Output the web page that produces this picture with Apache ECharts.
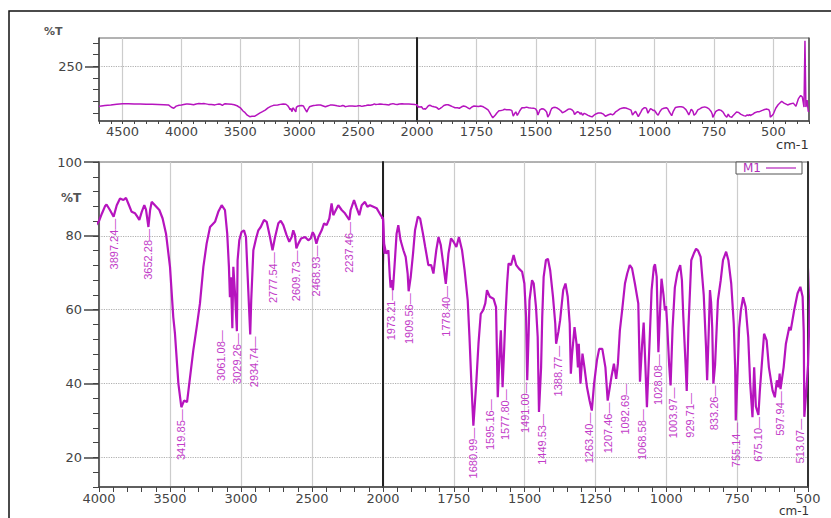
<!DOCTYPE html>
<html><head><meta charset="utf-8">
<script src="https://cdn.jsdelivr.net/npm/echarts@6/dist/echarts.min.js"></script>
<style>html,body{margin:0;padding:0;background:#fff}#c{width:831px;height:518px}</style>
</head><body><div id="c"></div>
<script>
// Wavenumber (cm-1) and %T
const wavenumbers = [
4700,4680,4650,4600,4550,4500,4450,4400,4350,4300,4250,4200,4150,4110,4085,4065,4045,4020,
4000,3980,3958,3947,3923,3897,3875,3852,3828,3810,3793,3770,3746,3730,3716,3699,3681,3669,3652,3640,
3629,3606,3575,3552,3528,3500,3477,3465,3441,3420,3401,3380,3359,3336,3312,3289,3265,3242,3218,3183,
3160,3136,3113,3097,3085,3078,3071,3061,3054,3042,3029,3024,3012,2997,2979,2965,2956,2935,2928,2913,
2894,2878,2861,2838,2819,2796,2778,2760,2737,2720,2702,2679,2660,2643,2632,2620,2610,2596,2577,2549,
2526,2509,2495,2484,2469,2455,2432,2415,2397,2378,2362,2350,2338,2315,2291,2268,2237,2228,2204,2185,
2167,2150,2127,2110,2092,2068,2045,2016,2000,
1996,1989,1981,1976,1973,1969,1965,1958,1952,1946,1938,1928,1920,1913,1909.5,1902,1894,1887,1877,1869,
1859,1851,1840,1830,1822,1812,1804,1796,1786,1778.4,1769,1760,1751,1741,1732,1721,1712,1701,1695,1688,
1681,1671,1663,1655,1647,1639,1633,1623,1610,1601,1595,1588,1584,1581,1578,1572,1568,1562,1557,1548,
1539,1530,1521,1509,1501,1495,1491,1486,1483,1474,1468,1460,1454,1449.5,1442,1438,1433,1425,1418,1410,
1400,1392,1389,1381,1375,1364,1356,1348,1341,1337,1333,1324,1317,1312,1309,1303,1296,1289,1280,1271,
1263,1255,1245,1237,1226,1215,1207,1194,1185,1177,1171,1164,1156,1146,1138,1129,1121,1111,1099,1093,
1086,1080,1074,1068.5,1058,1052,1044,1040,1034,1028,1022,1017,1010,1005,1001,997,990,985,978,970,
961,951,945,940,932,928,922,912,903,895,888,879,868,860,856,850,846,842,838,834,
828,818,808,800,789,781,771,762,757,755,750,743,737,729,720,711,704,696,690,684,
675,670,662,655,646,638,625,617,610,604,600,597,586,578,566,561,549,537,527,519,
515,513,506,500,490,480,465,455,440,430,416,405,395,385,378,371,367,363,358,353,350
];
const transmittance = [
77,80,82,84,87,89,89,88,88,87,87,86,85,84,74,70,79,83,
84,86,88,88.5,87,85.2,88.3,90.1,89.7,90.3,88.7,86.5,86.1,85.2,84.3,86.5,88.3,87.1,82.4,87,
89.2,88.3,87,84.7,80.6,71.6,58,53.5,40,33.6,35.4,35,41.7,49,55.3,61.7,71.6,77.9,82.4,83.8,
86.5,88.3,87,80.6,71.6,63.4,68.8,55,71.6,64.3,54.2,73.4,78.8,81,81.5,79.7,71.6,53.3,62.5,76.1,
79.3,81.5,82.4,84.3,83.8,79.7,76.1,79.7,83.4,84.1,82.9,80.2,78.4,79.7,81.5,80.2,76.6,77.9,79.3,79.7,
78.8,79.3,81,80.2,77.9,79.7,81.5,83.4,82.9,84.7,88.8,85.6,86.5,88.3,87,86.1,84.3,87,89.7,87.5,
85.6,88.3,89.2,87.9,88.3,87.9,87.5,85.6,84.7,
77.9,75.2,76.1,69,66,68,65.3,73.4,80.6,82.9,78.8,76.1,74.3,69.8,65,69,75.2,81.5,85.2,84.7,
80.6,77,72.1,72.1,69.8,76.1,79.7,77.5,71.6,67,75.2,79.3,78.4,77,79.7,76.1,70.7,62.5,53,40,
28.6,40,50.8,58.9,59.8,61.7,65.3,63.5,63,60.7,36.3,49,54.4,47,39,50,58,67.1,72.5,72.1,
74.8,72.1,71.2,70.3,67.1,58,40.9,53.5,62.5,68,67.1,60.7,52.6,32.3,44.4,58,68.9,73.4,73.8,70.7,
63.5,56.2,50.8,54,57.1,65.3,67.1,63.5,56.2,42.7,47.6,55.3,50.8,44.4,50.8,40,48.1,44.4,39,35.4,
32.7,40,46.3,49.4,49.4,44.4,35.4,41.7,45.4,41.3,45.4,54.4,59.8,67.1,69.8,72.1,71.2,67.1,61.7,40.5,
50,56.5,45,33.6,53.5,65.3,71.6,72.3,68.9,48.5,60,68.4,64,59.8,61,56,45,39.5,55,66,
70,72.1,68,58,45,38,55,73.4,75.2,76.5,76,74.3,64,50,40.9,55,65.3,62,55,40,
45,62.5,68,73.4,75.7,73.4,67.1,56.2,44,30,40,55,59.8,63.4,60.7,52.6,40,30.9,44.4,33.8,
31.5,38,46.3,53.5,51.7,44.4,38.1,36.3,40.9,39,42.7,38.5,44.4,50.8,55.3,54.4,59.8,64.4,66.2,63.5,
54,31,38,45,70,85,100,92,84,88,92,78,110,125,118,75,360,75,105,55,60
];
// Labelled bands
const peakWavenumbers = [3897.24,3652.28,3419.85,3061.08,3029.26,2934.74,2777.54,2609.73,2468.93,2237.46,
1973.21,1909.56,1778.40,1680.99,1595.16,1577.80,1491.00,1449.53,1388.77,1263.40,1207.46,1092.69,1068.58,
1028.08,1003.97,929.71,833.26,755.14,675.10,597.94,513.07];
const peakTransmittance = [85.2,82.4,33.6,55,54.2,53.3,76.1,76.6,77.9,84.3,
66,65,67,28.6,36.3,39,40.9,32.3,50.8,32.7,35.4,40.5,33.6,
48.5,39.5,38,40,30,31.5,38.5,31];
const topYTicks = [50,100,150,200,250,300,350];
const topYLabels = [250];
const bottomYLabels = [20,40,60,80,100];

// styling
const lineColor = '#b614be';
const labelColor = '#c23cc8';
const labelShiftPx = {'3061.08':-11,'2934.74':4,'1595.16':-8,'1577.80':2,'1491.00':-2,'1449.53':3,
  '1388.77':2,'1263.40':-3,'1092.69':-15,'1068.58':-5,'1003.97':8,'929.71':4,'513.07':-4};
const T = 'rgba(0,0,0,0)', G = '#cccccc', D = '#b0b0b0';
const axisFont = {fontFamily:'DejaVu Sans', fontSize:13, color:'#444'};

const spectrum = wavenumbers.map((w, i) => [w, transmittance[i]]);
const peaks = peakWavenumbers.map((w, i) => [w, peakTransmittance[i]]);

function lineSeries(name, xi, yi, width) {
  return {type:'line', name, xAxisIndex:xi, yAxisIndex:yi, data:spectrum, showSymbol:false,
    symbol:'none', clip:true, lineStyle:{color:lineColor, width}, itemStyle:{color:lineColor},
    emphasis:{disabled:true}, animation:false};
}
function labelSeries(xi, yi, items) {
  return {type:'custom', xAxisIndex:xi, yAxisIndex:yi, clip:false, silent:true, animation:false,
    data:items,
    renderItem:function (params, api) {
      const w = api.value(0);
      const p = api.coord([w, api.value(1)]);
      const key = w.toFixed(2);
      const dx = labelShiftPx[key] || 0;
      return {type:'text', x:p[0] + dx, y:p[1] + 2, rotation:Math.PI / 2,
        style:{text:key + '\u2014', align:'right', verticalAlign:'middle', fill:labelColor,
          fontSize:11, fontFamily:'Liberation Sans'}};
    }};
}
function xAx(grid, min, max, interval, step, cycle, skip, tickLen, margin) {
  return {type:'value', gridIndex:grid, min, max, interval, inverse:true,
    axisLine:{show:true, lineStyle:{color:'#444', width:1.5}},
    axisTick:{show:true, length:tickLen, lineStyle:{color:'#444'}},
    axisLabel:{...axisFont, lineHeight:12, margin, showMinLabel:true, showMaxLabel:true,
      formatter:v => (v % step === 0 && v !== skip) ? String(v) : ''},
    splitLine:{show:true, lineStyle:{color:cycle, width:1.2}}};
}

const option = {
  animation:false,
  backgroundColor:'#fff',
  title:[
    {text:'%T', left:44, top:26, padding:0, textStyle:{fontSize:11, fontWeight:'bold', color:'#555', fontFamily:'DejaVu Sans'}},
    {text:'%T', left:61, top:192, padding:0, textStyle:{fontSize:12, fontWeight:'bold', color:'#555', fontFamily:'DejaVu Sans'}},
    {text:'cm-1', left:776, top:138, padding:0, textStyle:{fontSize:13, fontWeight:'normal', color:'#333', fontFamily:'DejaVu Sans'}},
    {text:'cm-1', left:779, top:505, padding:0, textStyle:{fontSize:12, lineHeight:12, fontWeight:'normal', color:'#333', fontFamily:'DejaVu Sans'}}
  ],
  legend:{data:['M1'], right:29, top:162, align:'right', icon:'rect', itemWidth:30, itemHeight:2,
    itemStyle:{color:'#d27ad6'}, textStyle:{color:'#b030b8', fontSize:12, fontFamily:'DejaVu Sans', lineHeight:11},
    borderColor:'#555', borderWidth:1, padding:[0,6,0,7], backgroundColor:'#fff', selectedMode:false},
  graphic:[{type:'rect', shape:{x:9, y:11, width:900, height:600}, style:{fill:'none', stroke:'#111', lineWidth:1.5}, silent:true}],
  grid:[
    {left:99, top:38, width:318, height:83, show:true, borderColor:'#666', borderWidth:1},
    {left:417, top:38, width:392, height:83, show:true, borderColor:'#666', borderWidth:1},
    {left:99, top:162, width:284, height:325, show:true, borderColor:'#666', borderWidth:1},
    {left:383, top:162, width:425, height:325, show:true, borderColor:'#666', borderWidth:1}
  ],
  xAxis:[
    xAx(0, 2000, 4700, 100, 500, [G,T,T,T,T], 2000, 3, 4),
    xAx(1, 350, 2000, 50, 250, [T,T,T,G,T], -1, 3, 4),
    xAx(2, 2000, 4000, 100, 500, [G,T,T,T,T], -1, 5, 5),
    xAx(3, 500, 2000, 50, 250, [G,T,T,T,T], 2000, 5, 5)
  ],
  yAxis:[
    {type:'value', gridIndex:0, min:15, max:372, position:'left',
      axisLine:{show:true, lineStyle:{color:'#444', width:1.5}},
      axisTick:{show:true, length:6, customValues:topYTicks, lineStyle:{color:'#444'}},
      axisLabel:{show:false}, splitLine:{show:false}},
    {type:'value', gridIndex:0, min:15, max:372, position:'left',
      axisLine:{show:false},
      axisTick:{show:true, length:14, customValues:topYLabels, lineStyle:{color:'#444', width:1.5}},
      axisLabel:{...axisFont, margin:16, customValues:topYLabels},
      splitLine:{show:true, lineStyle:{color:D, type:'dotted', width:1.2}}},
    {type:'value', gridIndex:1, min:15, max:372, position:'left',
      axisLine:{show:true, lineStyle:{color:'#222', width:2}},
      axisTick:{show:false, customValues:topYLabels}, axisLabel:{show:false},
      splitLine:{show:true, lineStyle:{color:D, type:'dotted', width:1.2}}},
    {type:'value', gridIndex:1, min:15, max:372, position:'right',
      axisLine:{show:true, lineStyle:{color:'#555', width:1.5}},
      axisTick:{show:false}, axisLabel:{show:false}, splitLine:{show:false}},
    {type:'value', gridIndex:2, min:12, max:100, interval:4, position:'left',
      axisLine:{show:true, lineStyle:{color:'#444', width:1.5}},
      axisTick:{show:true, length:6, lineStyle:{color:'#444'}},
      axisLabel:{show:false},
      splitLine:{show:true, lineStyle:{color:[T,T,D,T,T], type:'dotted', width:1.2}}},
    {type:'value', gridIndex:2, min:12, max:100, position:'left',
      axisLine:{show:false},
      axisTick:{show:true, length:15, customValues:bottomYLabels, lineStyle:{color:'#444', width:1.5}},
      axisLabel:{...axisFont, margin:17, customValues:bottomYLabels},
      splitLine:{show:false}},
    {type:'value', gridIndex:3, min:12, max:100, interval:4, position:'left',
      axisLine:{show:true, lineStyle:{color:'#222', width:2}},
      axisTick:{show:false}, axisLabel:{show:false},
      splitLine:{show:true, lineStyle:{color:[T,T,D,T,T], type:'dotted', width:1.2}}},
    {type:'value', gridIndex:3, min:12, max:100, position:'right',
      axisLine:{show:true, lineStyle:{color:'#333', width:2}},
      axisTick:{show:false}, axisLabel:{show:false}, splitLine:{show:false}}
  ],
  series:[
    lineSeries('top-left', 0, 0, 1.5),
    lineSeries('top-right', 1, 2, 1.5),
    lineSeries('M1', 2, 4, 2.2),
    lineSeries('M1 ', 3, 6, 2.2),
    labelSeries(2, 4, peaks.filter(p => p[0] > 2000)),
    labelSeries(3, 6, peaks.filter(p => p[0] < 2000))
  ]
};
const chart = echarts.init(document.getElementById('c'), null, {renderer:'svg'});
chart.setOption(option);
</script>
</body></html>
